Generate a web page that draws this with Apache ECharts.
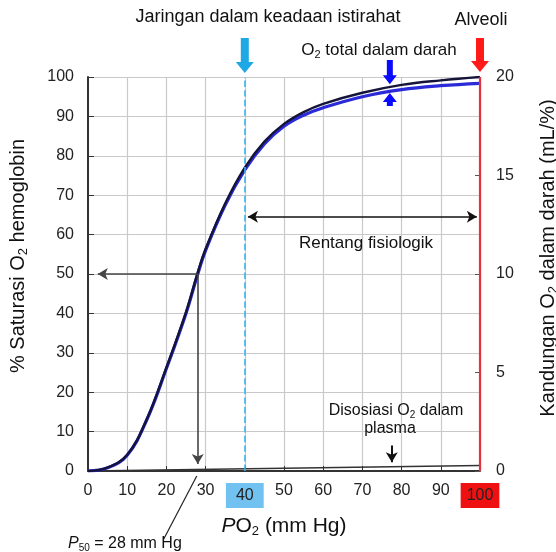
<!DOCTYPE html>
<html>
<head>
<meta charset="utf-8">
<script src="https://cdn.jsdelivr.net/npm/echarts@6/dist/echarts.min.js"></script>
<style>
  html, body { margin: 0; padding: 0; background: #fff; }
  #main { width: 556px; height: 552px; }
</style>
</head>
<body>
<div id="main"></div>
<script>
// PO2 (mm Hg) sample points
const po2 = [0, 5, 10, 15, 20, 25, 28, 30, 35, 40, 45, 50, 55, 60, 70, 80, 90, 100];
// % saturasi Hb (blue curve, left axis)
const satHb = [0, 0.8, 4, 13, 26, 40, 50, 56, 67.5, 76.4, 83, 87.5, 90.3, 92.2, 95, 96.8, 97.8, 98.4];
// O2 total dalam darah, mL/% (black curve, right axis)
const totalO2 = [0, 0.17, 0.82, 2.63, 5.25, 8.07, 10.08, 11.27, 13.58, 15.4, 16.72, 17.62, 18.22, 18.64, 19.2, 19.6, 19.83, 20.0];
// O2 terlarut dalam plasma (right axis)
const plasmaX = [0, 50, 100];
const plasmaO2 = [0, 0.14, 0.28];
const p50 = 28;
const restPo2 = 40;
const alvPo2 = 100;

const FONT = 'Liberation Sans, Arial, sans-serif';
const chart = echarts.init(document.getElementById('main'));

const titleRich = {
  n: { fontSize: 20, fontFamily: FONT, color: '#111' },
  s: { fontSize: 13, fontFamily: FONT, color: '#111', padding: [11, 0, 0, 0] }
};

chart.setOption({
  animation: false,
  textStyle: { fontFamily: FONT },
  grid: { left: 88, right: 76, top: 77, bottom: 81, outerBoundsMode: 'none' },
  xAxis: {
    type: 'value', min: 0, max: 100, interval: 10,
    name: '{i|P}{n|O}{s|2}{n| (mm Hg)}',
    nameLocation: 'middle', nameGap: 43,
    nameTextStyle: {
      rich: {
        i: { fontSize: 21, fontStyle: 'italic', fontFamily: FONT, color: '#111' },
        n: { fontSize: 21, fontFamily: FONT, color: '#111' },
        s: { fontSize: 13, fontFamily: FONT, color: '#111', padding: [11, 0, 0, 0] }
      }
    },
    axisLine: { lineStyle: { color: '#333', width: 2 } },
    axisTick: { inside: true, length: 5, lineStyle: { color: '#333' } },
    axisLabel: {
      margin: 12, fontSize: 16, color: '#222',
      formatter: v => v === restPo2 ? '{hb|' + v + '}' : v === alvPo2 ? '{hr|' + v + '}' : String(v),
      rich: {
        hb: { backgroundColor: '#72c2f1', padding: [5, 10, 4, 10], fontSize: 16, color: '#222' },
        hr: { backgroundColor: '#ef1111', padding: [5, 6, 4, 6], fontSize: 16, color: '#222' }
      }
    },
    splitLine: { show: true, lineStyle: { color: '#c9c9c9', width: 1.2 } }
  },
  yAxis: [
    {
      type: 'value', min: 0, max: 100, interval: 10,
      name: '{n|% Saturasi O}{s|2}{n| hemoglobin}',
      nameLocation: 'middle', nameGap: 58, nameRotate: 90,
      nameTextStyle: { rich: titleRich, padding: [0, 0, 0, 36] },
      axisLine: { show: true, lineStyle: { color: '#333', width: 2 } },
      axisTick: { show: true, inside: true, length: 6, lineStyle: { color: '#333' } },
      axisLabel: { margin: 14, fontSize: 16, color: '#222' },
      splitLine: { show: true, lineStyle: { color: '#c9c9c9', width: 1.2 } }
    },
    {
      type: 'value', min: 0, max: 20, interval: 5, position: 'right',
      name: '{n|Kandungan O}{s|2}{n| dalam darah (mL/%)}',
      nameLocation: 'middle', nameGap: 56, nameRotate: 90,
      nameTextStyle: { rich: titleRich, padding: [0, 0, 0, 32] },
      axisLine: { show: false },
      axisTick: { show: true, inside: true, length: 5, lineStyle: { color: '#555' } },
      axisLabel: { margin: 16, fontSize: 16, color: '#222' },
      splitLine: { show: false }
    }
  ],
  series: [
    {
      name: 'Saturasi Hb', type: 'line', yAxisIndex: 0, showSymbol: false,
      smooth: 0.4,
      data: po2.map((x, i) => [x, satHb[i]]),
      lineStyle: { color: '#2a2ad8', width: 3.2 },
      z: 3,
      markLine: {
        silent: true, symbol: ['none', 'none'], label: { show: false },
        data: [
          [{ coord: [restPo2, 0], lineStyle: { color: '#3ab4ea', type: 'dashed', width: 1.6 } }, { coord: [restPo2, 100] }],
          [{ coord: [alvPo2, 0], lineStyle: { color: '#e4333f', type: 'solid', width: 2.2 } }, { coord: [alvPo2, 100] }]
        ]
      }
    },
    {
      name: 'O2 total', type: 'line', yAxisIndex: 1, showSymbol: false,
      smooth: 0.4,
      data: po2.map((x, i) => [x, totalO2[i]]),
      lineStyle: { color: '#15153a', width: 2.4 },
      z: 4
    },
    {
      name: 'Plasma', type: 'line', yAxisIndex: 1, showSymbol: false,
      data: plasmaX.map((x, i) => [x, plasmaO2[i]]),
      lineStyle: { color: '#333', width: 1.5 },
      z: 2
    },
    {
      // annotation arrows in data coordinates
      name: 'anotasi', type: 'line', yAxisIndex: 0, data: [], z: 5,
      markLine: {
        silent: true, label: { show: false }, symbolSize: [9, 10],
        data: [
          [{ coord: [restPo2 + 0.8, 64.5], symbol: 'arrow', lineStyle: { color: '#111', width: 1.6, type: 'solid' } },
           { coord: [alvPo2 - 0.8, 64.5], symbol: 'arrow' }],
          [{ coord: [p50, 50], symbol: 'none', lineStyle: { color: '#444', width: 1.6, type: 'solid' } },
           { coord: [2.5, 50], symbol: 'arrow' }],
          [{ coord: [p50, 50], symbol: 'none', lineStyle: { color: '#444', width: 1.6, type: 'solid' } },
           { coord: [p50, 1.8], symbol: 'arrow' }],
          [{ coord: [77.5, 6.5], symbol: 'none', lineStyle: { color: '#111', width: 2, type: 'solid' } },
           { coord: [77.5, 2.2], symbol: 'arrow' }]
        ]
      }
    }
  ]
});

const px = (x, y, yi) => chart.convertToPixel({ xAxisIndex: 0, yAxisIndex: yi || 0 }, [x, y]);

function arrow(cx, yStart, yTip, sw, hw, hh, color) {
  const d = yTip > yStart ? 1 : -1;
  const yb = yTip - d * hh;
  return {
    type: 'polygon', silent: true, z: 10,
    shape: { points: [[cx - sw / 2, yStart], [cx + sw / 2, yStart], [cx + sw / 2, yb], [cx + hw / 2, yb],
                      [cx, yTip], [cx - hw / 2, yb], [cx - sw / 2, yb]] },
    style: { fill: color }
  };
}

function txt(x, y, text, size, rich, align) {
  return {
    type: 'text', x: x, y: y, silent: true, z: 10,
    style: {
      text: text, fill: '#111', fontSize: size, fontFamily: FONT,
      align: align || 'center', verticalAlign: 'middle', rich: rich
    }
  };
}

const xRest = px(restPo2, 0)[0];
const xAlv = px(alvPo2, 0)[0];
const xTotal = px(77, 0)[0];
const tipTotal = px(77, 97.9)[1];
const tipSat = px(77, 96.2)[1];
const p50Base = px(p50, 0);
const richSub = size => ({
  n: { fontSize: size, fontFamily: FONT, fill: '#111' },
  s: { fontSize: Math.round(size * 0.65), fontFamily: FONT, fill: '#111', padding: [Math.round(size * 0.55), 0, 0, 0] },
  i: { fontSize: size, fontFamily: FONT, fontStyle: 'italic', fill: '#111' }
});

chart.setOption({
  graphic: [
    arrow(xRest, 38, 73, 8, 18, 11, '#1ea8e4'),
    arrow(xAlv, 38, 72, 8, 18, 11, '#ff1a1a'),
    arrow(xTotal, 60, tipTotal - 1, 6, 14, 9, '#0a0aff'),
    arrow(xTotal, 106, tipSat + 1, 6, 14, 9, '#0a0aff'),
    txt(268, 17, 'Jaringan dalam keadaan istirahat', 18),
    txt(481, 20, 'Alveoli', 18),
    txt(379, 50, '{n|O}{s|2}{n| total dalam darah}', 17, richSub(17)),
    txt(366, 243, 'Rentang fisiologik', 17),
    txt(396, 411, '{n|Disosiasi O}{s|2}{n| dalam}', 16, richSub(16)),
    txt(390, 429, 'plasma', 16),
    {
      type: 'line', silent: true, z: 10,
      shape: { x1: p50Base[0] - 1, y1: p50Base[1] + 5, x2: p50Base[0] - 34, y2: p50Base[1] + 68 },
      style: { stroke: '#222', lineWidth: 1.2 }
    },
    txt(68, 544, '{i|P}{s|50}{n| = 28 mm Hg}', 16, richSub(16), 'left')
  ]
});
</script>
</body>
</html>
